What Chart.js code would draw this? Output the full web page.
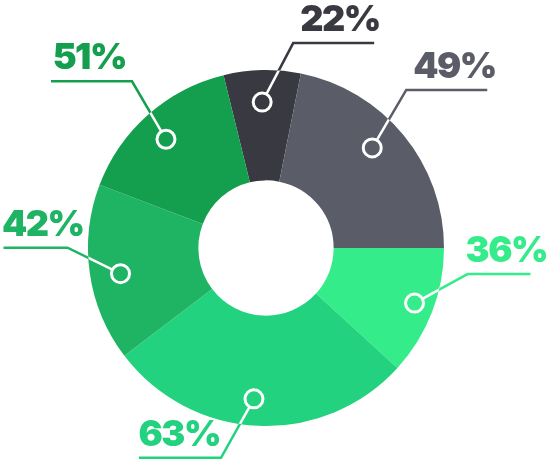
<!DOCTYPE html>
<html>
<head>
<meta charset="utf-8">
<script src="https://cdn.jsdelivr.net/npm/chart.js"></script>
<style>
  html, body { margin: 0; padding: 0; background: #fff; }
  #wrap { width: 547px; height: 460px; }
</style>
</head>
<body>
<div id="wrap"><canvas id="ringChart"></canvas></div>

<script>

// percentage shown on each callout
const percents = [22, 49, 36, 63, 42, 51];

// size of each slice (degrees of the ring)
const sliceSizes = [25.1, 78.7, 42.4, 100.3, 58.1, 55.4];

const sliceColors = [
    '#393941',
    '#5a5c68',
    '#35ec8a',
    '#22d27e',
    '#1fb463',
    '#139f4d'
];

// marker spot inside the slice (t = share of the slice angle, r = share of outer radius),
// leader direction from marker to elbow, shelf length, text gap from elbow
const leaders = [
    { t: 0.49, r: 0.82, dx: 31, dy: -59, len: 81, gap: 7 },
    { t: 0.45, r: 0.82, dx: 34, dy: -58, len: 81, gap: 7 },
    { t: 0.48, r: 0.89, dx: 53, dy: -29, len: 63, gap: 3 },
    { t: 0.52, r: 0.85, dx: -33, dy: 59, len: 82, gap: 1 },
    { t: 0.47, r: 0.83, dx: -53, dy: -26, len: 64, gap: 6 },
    { t: 0.48, r: 0.83, dx: -34, dy: -58, len: 81, gap: 6 }
];

const calloutPlugin = {
    id: 'callouts',
    afterDatasetsDraw(chart) {
        const ctx = chart.ctx;
        const arcs = chart.getDatasetMeta(0).data;
        const W = chart.width;

        arcs.forEach(function(arc, i) {
            const p = arc.getProps(['x', 'y', 'startAngle', 'endAngle', 'outerRadius']);
            const ld = leaders[i];
            const a = p.startAngle + (p.endAngle - p.startAngle) * ld.t;
            const r = p.outerRadius * ld.r;
            const cx = p.x + Math.cos(a) * r;
            const cy = p.y + Math.sin(a) * r;
            const ex = cx + ld.dx;
            const ey = cy + ld.dy;
            const side = ld.dx > 0 ? 1 : -1;
            const color = sliceColors[i];

            ctx.save();
            ctx.lineCap = 'butt';
            ctx.lineWidth = 2.5;

            // colored leader + shelf
            ctx.strokeStyle = color;
            ctx.beginPath();
            ctx.moveTo(cx, cy);
            ctx.lineTo(ex, ey);
            ctx.lineTo(ex + side * ld.len, ey);
            ctx.stroke();

            // white part of the leader over the ring
            ctx.save();
            ctx.beginPath();
            ctx.arc(p.x, p.y, p.outerRadius, 0, Math.PI * 2);
            ctx.clip();
            ctx.strokeStyle = '#ffffff';
            ctx.beginPath();
            ctx.moveTo(cx, cy);
            ctx.lineTo(ex, ey);
            ctx.stroke();
            ctx.restore();

            // marker ring
            ctx.beginPath();
            ctx.arc(cx, cy, 9, 0, Math.PI * 2);
            ctx.fillStyle = color;
            ctx.fill();
            ctx.lineWidth = 3;
            ctx.strokeStyle = '#ffffff';
            ctx.stroke();

            // label
            const text = percents[i] + '%';
            ctx.font = '900 36px Inter';
            if ('letterSpacing' in ctx) ctx.letterSpacing = '-1.5px';
            ctx.fillStyle = color;
            ctx.textBaseline = 'alphabetic';
            const tw = ctx.measureText(text).width;
            let tx = side > 0 ? ex + ld.gap : ex - ld.gap - tw;
            tx = Math.max(2, Math.min(tx, W - tw));
            ctx.textAlign = 'left';
            ctx.fillText(text, tx, ey - 12);
            ctx.restore();
        });
    }
};

new Chart(document.getElementById('ringChart'), {

    type: 'doughnut',

    data: {
        labels: percents.map(function(v) { return v + '%'; }),
        datasets: [{
            data: sliceSizes,
            backgroundColor: sliceColors,
            borderWidth: 0
        }]
    },

    options: {
        responsive: true,
        maintainAspectRatio: false,
        animation: false,
        rotation: -13.8,
        radius: 178,
        cutout: '38%',
        layout: {
            padding: { left: 0, right: 15, top: 36, bottom: 0 }
        },
        plugins: {
            legend: { display: false },
            tooltip: { enabled: false }
        }
    },

    plugins: [calloutPlugin]

});

</script>
</body>
</html>
